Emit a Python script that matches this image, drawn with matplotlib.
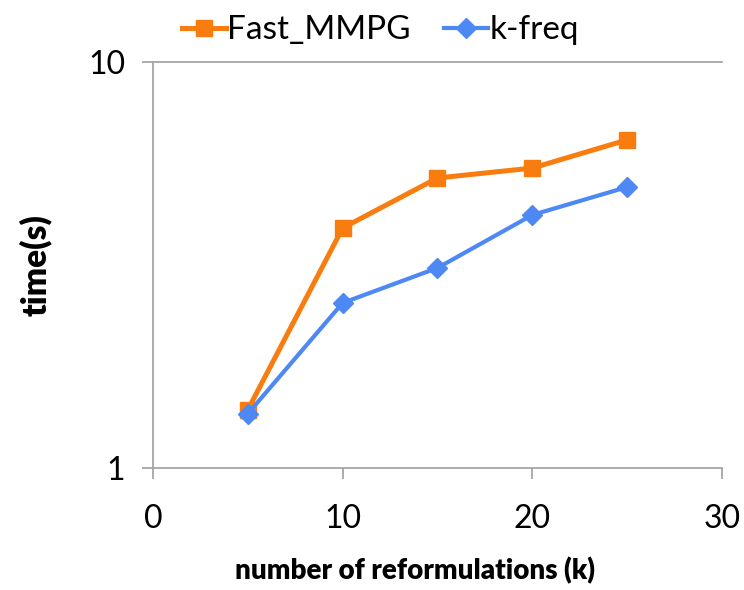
import matplotlib.pyplot as plt
from matplotlib.ticker import FixedLocator, NullLocator

k = [5, 10, 15, 20, 25]
fast_mmpg = [1.39, 3.90, 5.18, 5.48, 6.43]
k_freq = [1.36, 2.55, 3.11, 4.20, 4.92]

plt.rcParams['font.family'] = ['Lato', 'DejaVu Sans']

fig = plt.figure(figsize=(7.44, 5.90), dpi=100)
ax = fig.add_axes([0.2056, 0.2068, 0.7648, 0.6881])

ax.plot(k, fast_mmpg, color='#F97C0E', lw=3.6, marker='s', ms=11, label='Fast_MMPG')
ax.plot(k, k_freq, color='#4D88F5', lw=3.0, marker='D', ms=10, label='k-freq')

ax.set_yscale('log')
ax.set_ylim(1, 10)
ax.set_xlim(0, 30)
ax.yaxis.set_major_locator(FixedLocator([1, 10]))
ax.yaxis.set_minor_locator(NullLocator())
ax.set_yticklabels(['1', '10'])
ax.set_xticks([0, 10, 20, 30])

grey = '#A6A6A6'
ax.axhline(10, color=grey, lw=1.3, clip_on=False)
for s in ['top', 'right']:
    ax.spines[s].set_visible(False)
for s in ['left', 'bottom']:
    ax.spines[s].set_color(grey)
    ax.spines[s].set_linewidth(1.3)
ax.tick_params(axis='both', colors=grey, labelcolor='black', labelsize=23, width=1.3, length=8)
ax.tick_params(axis='x', pad=18)
ax.tick_params(axis='y', pad=12)

ax.set_xlabel('number of reformulations (k)', fontsize=20, fontweight='heavy')
ax.xaxis.set_label_coords(0.46, -0.22)
ax.set_ylabel('time(s)', fontsize=24, fontweight='heavy', labelpad=26)

ax.legend(loc='lower center', bbox_to_anchor=(0.40, 1.0), ncol=2, frameon=False,
          fontsize=24, handlelength=1.3, handletextpad=0.05, columnspacing=1.0,
          borderaxespad=0.1)

fig.savefig('out.png', dpi=100)
